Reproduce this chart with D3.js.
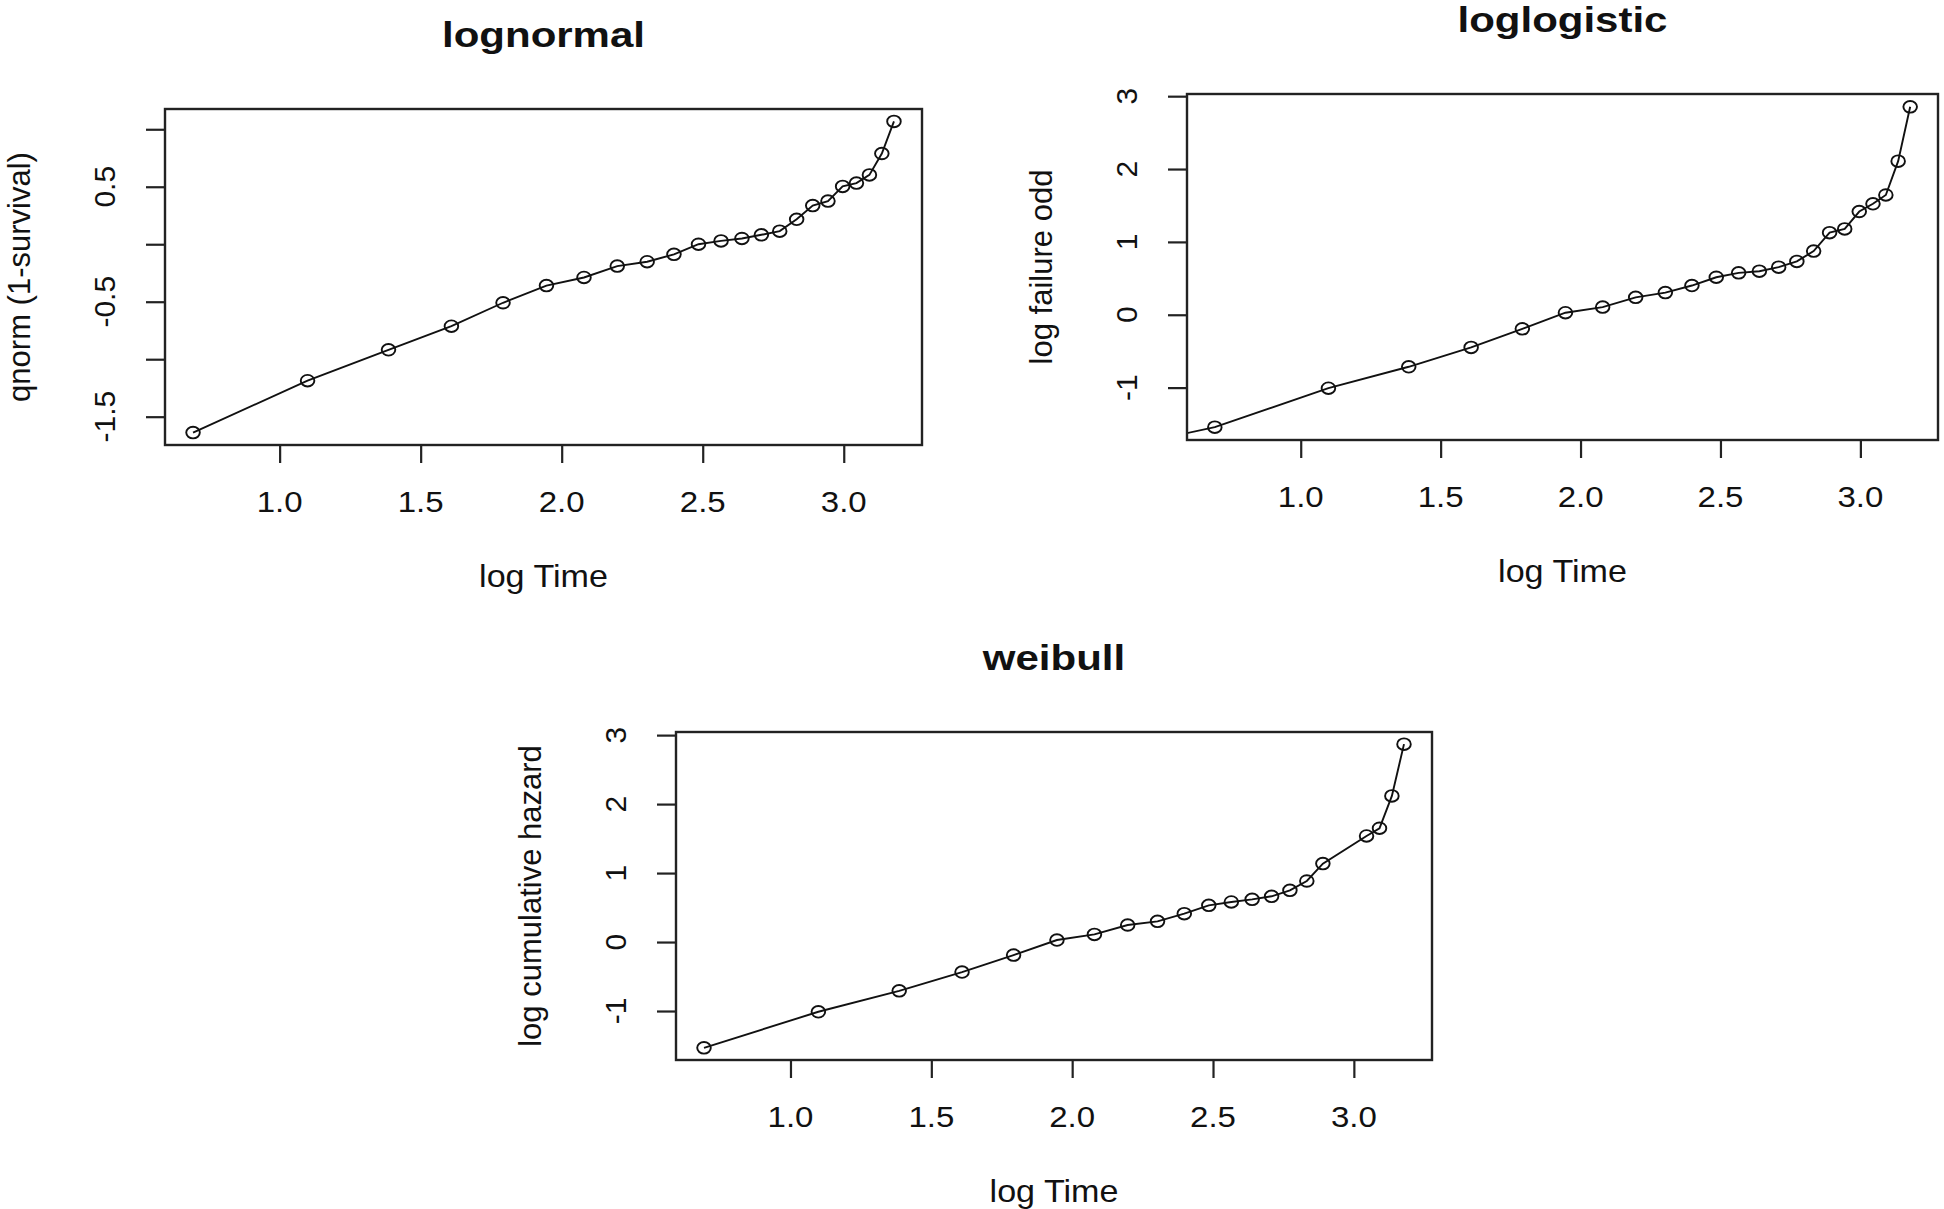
<!DOCTYPE html>
<html><head><meta charset="utf-8">
<script src="https://cdn.jsdelivr.net/npm/d3@7"></script>
<style>
body{margin:0;background:#fff}
svg{display:block}
text{font-family:"Liberation Sans",Arial,sans-serif;fill:#111}
</style>
</head><body>
<svg id="c" width="1944" height="1209"></svg>
<script>
// ---- data ----
const logTime = [0.693,1.099,1.386,1.609,1.792,1.946,2.079,2.197,2.303,2.398,2.485,2.565,2.639,2.708,2.773,2.833,2.890,2.944,2.996,3.045,3.091,3.135,3.178];
const lognormalY = [-1.638,-1.187,-0.918,-0.713,-0.509,-0.360,-0.289,-0.190,-0.152,-0.088,0.000,0.029,0.050,0.082,0.114,0.217,0.336,0.375,0.503,0.532,0.603,0.789,1.068];
// loglogistic: first point lies left of the plotting region (clipped)
const loglogisticX = [0.000,0.693,1.099,1.386,1.609,1.792,1.946,2.079,2.197,2.303,2.398,2.485,2.565,2.639,2.708,2.773,2.833,2.890,2.944,2.996,3.045,3.091,3.135,3.178];
const loglogisticY = [-2.110,-1.543,-1.008,-0.714,-0.448,-0.193,0.028,0.105,0.239,0.304,0.401,0.515,0.575,0.598,0.653,0.732,0.874,1.127,1.178,1.417,1.523,1.644,2.108,2.854];
const weibullX = [0.693,1.099,1.386,1.609,1.792,1.946,2.079,2.197,2.303,2.398,2.485,2.565,2.639,2.708,2.773,2.833,2.890,3.045,3.091,3.135,3.178];
const weibullY = [-1.534,-1.011,-0.707,-0.435,-0.189,0.029,0.111,0.247,0.300,0.411,0.532,0.581,0.619,0.663,0.750,0.885,1.137,1.538,1.650,2.119,2.869];

const xTicks = [1.0,1.5,2.0,2.5,3.0];
const xTickLabels = ["1.0","1.5","2.0","2.5","3.0"];
const lognormalYTicks = [-1.5,-1.0,-0.5,0.0,0.5,1.0];
const lognormalYLabels = ["-1.5","","-0.5","","0.5",""];
const hazardYTicks = [-1,0,1,2,3];
const hazardYLabels = ["-1","0","1","2","3"];
const titles = ["lognormal","loglogistic","weibull"];
const yTitles = ["qnorm (1-survival)","log failure odd","log cumulative hazard"];
const xTitle = "log Time";

// ---- layout ----
const panels = [
  {title:titles[0], ylab:yTitles[0], xs:logTime, ys:lognormalY, vis:0, yt:lognormalYTicks, yl:lognormalYLabels, box:{l:165,t:109,r:922,b:445}},
  {title:titles[1], ylab:yTitles[1], xs:loglogisticX, ys:loglogisticY, vis:1, yt:hazardYTicks, yl:hazardYLabels, box:{l:1187,t:94,r:1938,b:440}},
  {title:titles[2], ylab:yTitles[2], xs:weibullX, ys:weibullY, vis:0, yt:hazardYTicks, yl:hazardYLabels, box:{l:676,t:732,r:1432,b:1060}}
];

function rLim(v){ const mn=d3.min(v), mx=d3.max(v), e=(mx-mn)*0.04; return [mn-e, mx+e]; }

const svg = d3.select("#c");
const defs = svg.append("defs");

panels.forEach((p,i)=>{
  const b = p.box;
  const x = d3.scaleLinear().domain(rLim(logTime)).range([b.l,b.r]);
  const y = d3.scaleLinear().domain(rLim(p.ys.slice(p.vis))).range([b.b,b.t]);
  const pts = p.xs.map((d,k)=>[d,p.ys[k]]);
  const g = svg.append("g");

  defs.append("clipPath").attr("id","clip"+i).append("rect")
    .attr("x",b.l).attr("y",b.t).attr("width",b.r-b.l).attr("height",b.b-b.t);
  const plot = g.append("g").attr("clip-path",`url(#clip${i})`);

  plot.append("path").datum(pts)
    .attr("d", d3.line().x(d=>x(d[0])).y(d=>y(d[1])))
    .attr("fill","none").attr("stroke","#111").attr("stroke-width",1.9);

  plot.selectAll("ellipse").data(pts).join("ellipse")
    .attr("cx",d=>x(d[0])).attr("cy",d=>y(d[1]))
    .attr("rx",6.8).attr("ry",5.8)
    .attr("fill","none").attr("stroke","#111").attr("stroke-width",1.9);

  // box
  g.append("rect").attr("x",b.l).attr("y",b.t).attr("width",b.r-b.l).attr("height",b.b-b.t)
    .attr("fill","none").attr("stroke","#222").attr("stroke-width",2.4);

  // x axis
  const xa = g.append("g").attr("transform",`translate(0,${b.b})`)
    .call(d3.axisBottom(x).tickValues(xTicks).tickSize(18).tickSizeOuter(0).tickPadding(0).tickFormat(""));
  xa.select(".domain").remove();
  xa.selectAll("line").attr("stroke","#222").attr("stroke-width",2.2);
  xTicks.forEach((t,k)=>{
    g.append("text").attr("text-anchor","middle").attr("font-size",30)
      .attr("transform",`translate(${x(t)},${b.b+67}) scale(1.1,1)`).text(xTickLabels[k]);
  });

  // y axis
  const ya = g.append("g").attr("transform",`translate(${b.l},0)`)
    .call(d3.axisLeft(y).tickValues(p.yt).tickSize(19).tickSizeOuter(0).tickFormat(""));
  ya.select(".domain").remove();
  ya.selectAll("line").attr("stroke","#222").attr("stroke-width",2.2);
  p.yt.forEach((t,k)=>{
    if(!p.yl[k]) return;
    g.append("text").attr("text-anchor","middle").attr("font-size",30)
      .attr("transform",`translate(${b.l-50},${y(t)}) rotate(-90)`).text(p.yl[k]);
  });

  // titles
  g.append("text").attr("text-anchor","middle").attr("font-size",35).attr("font-weight","bold")
    .attr("transform",`translate(${(b.l+b.r)/2},${b.t-62}) scale(1.2,1)`).text(p.title);
  g.append("text").attr("text-anchor","middle").attr("font-size",31)
    .attr("transform",`translate(${(b.l+b.r)/2},${b.b+142}) scale(1.1,1)`).text(xTitle);
  g.append("text").attr("text-anchor","middle").attr("font-size",31)
    .attr("transform",`translate(${b.l-135},${(b.t+b.b)/2}) rotate(-90)`).text(p.ylab);
});
</script>
</body></html>
